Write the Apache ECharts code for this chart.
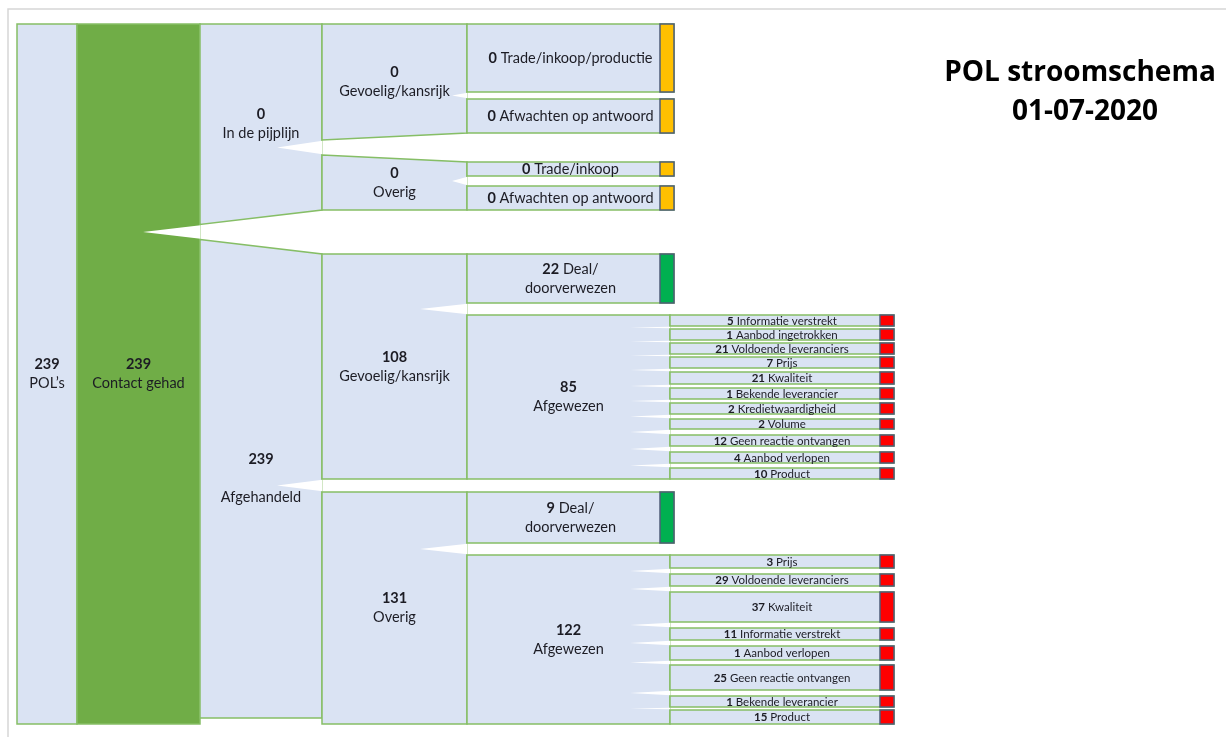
<!DOCTYPE html>
<html>
<head>
<meta charset="utf-8">
<script src="https://cdn.jsdelivr.net/npm/echarts@6/dist/echarts.min.js"></script>
<style>html,body{margin:0;padding:0;background:#fff}#c{width:1226px;height:737px}</style>
</head>
<body>
<div id="c"></div>
<script>
// ================= DATA =================
const titleLines = ['POL stroomschema', '01-07-2020'];

const nodeLabels = [
  "POL\u2019s", 'Contact gehad', 'In de pijplijn', 'Afgehandeld',
  'Gevoelig/kansrijk', 'Overig',
  'Trade/inkoop/productie', 'Afwachten op antwoord', 'Trade/inkoop', 'Afwachten op antwoord',
  'Gevoelig/kansrijk', 'Overig',
  'Deal/\ndoorverwezen', 'Afgewezen', 'Deal/\ndoorverwezen', 'Afgewezen',
  'Informatie verstrekt', 'Aanbod ingetrokken', 'Voldoende leveranciers', 'Prijs', 'Kwaliteit',
  'Bekende leverancier', 'Kredietwaardigheid', 'Volume', 'Geen reactie ontvangen', 'Aanbod verlopen', 'Product',
  'Prijs', 'Voldoende leveranciers', 'Kwaliteit', 'Informatie verstrekt', 'Aanbod verlopen',
  'Geen reactie ontvangen', 'Bekende leverancier', 'Product'
];
const nodeValues = [
  239, 239, 0, 239,
  0, 0,
  0, 0, 0, 0,
  108, 131,
  22, 85, 9, 122,
  5, 1, 21, 7, 21, 1, 2, 2, 12, 4, 10,
  3, 29, 37, 11, 1, 25, 1, 15
];
const nodeParents = [
  -1, 0, 1, 1,
  2, 2,
  4, 4, 5, 5,
  3, 3,
  10, 10, 11, 11,
  13, 13, 13, 13, 13, 13, 13, 13, 13, 13, 13,
  15, 15, 15, 15, 15, 15, 15, 15
];
// status of end points: '' none, 'open' = in afwachting, 'deal', 'rejected'
const nodeStatus = [
  '', '', '', '',
  '', '',
  'open', 'open', 'open', 'open',
  '', '',
  'deal', '', 'deal', '',
  'rejected','rejected','rejected','rejected','rejected','rejected','rejected','rejected','rejected','rejected','rejected',
  'rejected','rejected','rejected','rejected','rejected','rejected','rejected','rejected'
];

// ================= LAYOUT (positions / sizes / styles) =================
const TOP_Y = 24;
const COL_EDGES = [17, 77, 200, 322, 467, 670];
const LEAF_RIGHT = {4: 674, 5: 894};
const TAB_W = 14;
// per leaf in top-to-bottom order: gap above, box height (pixels)
const LEAF_GAP = [0, 7, 29, 10, 44, 12, 3, 3, 3, 4, 4, 4, 5, 6, 6, 5, 13, 12, 6, 6, 6, 6, 5, 6, 3];
const LEAF_H   = [68, 34, 14, 24, 49, 11, 11, 11, 11, 12, 11, 11, 10, 11, 11, 11, 51, 13, 12, 30, 12, 14, 25, 11, 14];
const MAX_LEFT_GAP = 15;
const BOTTOM_INSET = {3: 6};
const WEDGE_LEN = {1: 57, 2: 45, 3: 47, 4: 40};
const SMALL_PARENT_WEDGE = 15;
const SPACED_LABEL = {3: true};

const BOX_FILL = '#DAE3F3';
const GREEN_FILL = '#70AD47';
const BORDER = '#86BE66';
const TAB_STROKE = '#4F5D78';
const STATUS_COLOR = {open: '#FFC000', deal: '#00B050', rejected: '#FF0000'};
const TXT = '#1c1c24';
const FONT = 'Lato, "Open Sans", sans-serif';
const TITLE_FONT = '"Open Sans", Lato, sans-serif';

// ================= compute tree layout =================
const N = nodeLabels.length;
const kids = Array.from({length: N}, () => []);
nodeParents.forEach((p, i) => { if (p >= 0) kids[p].push(i); });
const depth = nodeParents.map((p, i) => { let d = 0, k = i; while (nodeParents[k] >= 0) { k = nodeParents[k]; d++; } return d; });
const leafOrder = [];
(function dfs(i) { if (!kids[i].length) leafOrder.push(i); else kids[i].forEach(dfs); })(0);

const yTop = new Array(N), yBot = new Array(N);
let yy = TOP_Y;
leafOrder.forEach((id, k) => { yy += LEAF_GAP[k]; yTop[id] = yy; yy += LEAF_H[k]; yBot[id] = yy; });
(function ext(i) {
  if (kids[i].length) {
    kids[i].forEach(ext);
    yTop[i] = yTop[kids[i][0]];
    yBot[i] = yBot[kids[i][kids[i].length - 1]];
  }
})(0);
Object.keys(BOTTOM_INSET).forEach(k => { yBot[k] -= BOTTOM_INSET[k]; });
const lTop = yTop.slice(), lBot = yBot.slice();
const pairs = [];
kids.forEach((ch, p) => {
  for (let k = 0; k < ch.length - 1; k++) {
    const a = ch[k], b = ch[k + 1];
    const g = yTop[b] - yBot[a];
    if (g > MAX_LEFT_GAP) { const s = (g - MAX_LEFT_GAP) / 2; lBot[a] = yBot[a] + s; lTop[b] = yTop[b] - s; }
    pairs.push([a, b, p]);
  }
});
const xr = nodeLabels.map((_, i) => {
  const d = depth[i];
  const x0 = COL_EDGES[d];
  const x1 = kids[i].length ? COL_EDGES[d + 1] : LEAF_RIGHT[d];
  return [x0, x1];
});

function labelText(i) {
  const v = nodeValues[i];
  const lines = nodeLabels[i].split('\n');
  if (!kids[i].length) {
    return '{b|' + v + '}{n| ' + lines[0] + '}' + lines.slice(1).map(l => '\n{n|' + l + '}').join('');
  }
  return '{b|' + v + '}\n' + (SPACED_LABEL[i] ? '{n| }\n' : '') + lines.map(l => '{n|' + l + '}').join('\n');
}

// ================= chart =================
const chart = echarts.init(document.getElementById('c'), null, {renderer: 'canvas'});
const boxData = nodeValues.map((v, i) => [i, v]);
const pairData = pairs.map((p, k) => [k, 0]);

chart.setOption({
  animation: false,
  backgroundColor: '#fff',
  grid: {left: 0, right: 0, top: 0, bottom: 0},
  xAxis: {type: 'value', min: 0, max: 1226, show: false},
  yAxis: {type: 'value', min: 0, max: 737, inverse: true, show: false},
  graphic: [
    {type: 'polyline', shape: {points: [[8, 737], [8, 9], [1226, 9]]}, style: {stroke: '#D6D6D6', lineWidth: 1.5, fill: null}, z: 0},
    {type: 'text', x: 1080, y: 73, style: {text: titleLines[0], font: 'bold 28px ' + TITLE_FONT, fill: '#000', align: 'center', verticalAlign: 'middle'}, z: 10},
    {type: 'text', x: 1085, y: 112, style: {text: titleLines[1], font: 'bold 28px ' + TITLE_FONT, fill: '#000', align: 'center', verticalAlign: 'middle'}, z: 10}
  ],
  series: [
    {
      type: 'custom', coordinateSystem: 'cartesian2d', z: 2, silent: true,
      data: boxData,
      renderItem: (params, api) => {
        const i = api.value(0);
        const [x0, x1] = xr[i];
        const pts = [[x0, lTop[i]], [x1, yTop[i]], [x1, yBot[i]], [x0, lBot[i]]].map(p => api.coord(p));
        const els = [{type: 'polygon', shape: {points: pts},
          style: {fill: i === 1 ? GREEN_FILL : BOX_FILL, stroke: BORDER, lineWidth: 1.5}}];
        if (nodeStatus[i]) {
          const a = api.coord([x1 - TAB_W, yTop[i]]), b = api.coord([x1, yBot[i]]);
          els.push({type: 'rect', shape: {x: a[0], y: a[1], width: b[0] - a[0], height: b[1] - a[1]},
            style: {fill: STATUS_COLOR[nodeStatus[i]], stroke: TAB_STROKE, lineWidth: 1.5}});
        }
        return {type: 'group', children: els};
      }
    },
    {
      type: 'custom', coordinateSystem: 'cartesian2d', z: 3, silent: true,
      data: pairData,
      renderItem: (params, api) => {
        const [a, b, p] = pairs[api.value(0)];
        const x = COL_EDGES[depth[a]];
        const ph = yBot[p] - yTop[p];
        const len = ph < 130 ? SMALL_PARENT_WEDGE : WEDGE_LEN[depth[p]];
        const y0 = lBot[a], y1 = lTop[b];
        const pts = [[x - len, (y0 + y1) / 2], [x + 0.5, y0 + 0.8], [x + 0.5, y1 - 0.8]].map(q => api.coord(q));
        return {type: 'polygon', shape: {points: pts}, style: {fill: '#fff', stroke: null}};
      }
    },
    {
      type: 'custom', coordinateSystem: 'cartesian2d', z: 4, silent: true,
      data: boxData,
      renderItem: (params, api) => {
        const i = api.value(0);
        const [x0, x1] = xr[i];
        const small = depth[i] === 5;
        const fs = small ? 11.5 : 14.5;
        const lh = small ? 12 : 19;
        const c = api.coord([(x0 + x1) / 2, (lTop[i] + lBot[i]) / 2]);
        return {type: 'text', x: c[0], y: c[1] + (small ? 0.5 : 0),
          style: {text: labelText(i), align: 'center', verticalAlign: 'middle',
            fontFamily: FONT, fontSize: fs, fill: TXT, lineHeight: lh,
            rich: {
              b: {fontWeight: 'bold', fontFamily: FONT, fontSize: fs, fill: TXT, lineHeight: lh},
              n: {fontFamily: FONT, fontSize: fs, fill: TXT, lineHeight: lh}
            }}};
      }
    }
  ]
});
</script>
</body>
</html>
